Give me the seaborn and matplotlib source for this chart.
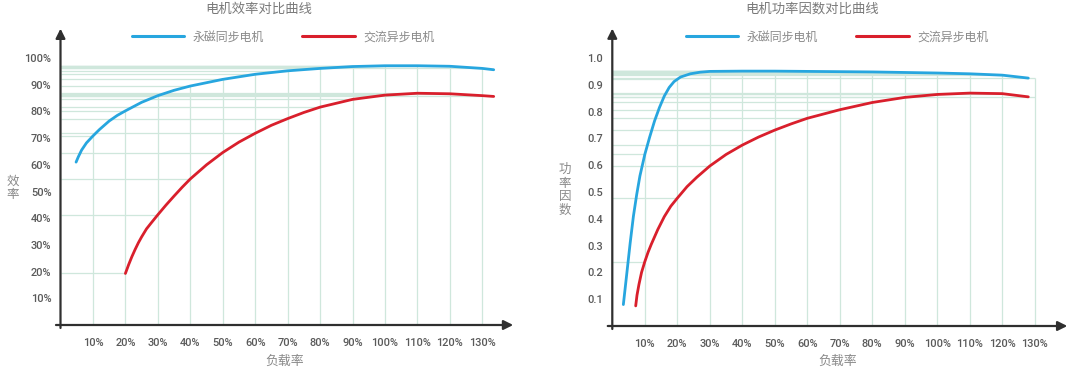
import numpy as np
import pandas as pd
import matplotlib
matplotlib.use("Agg")
import matplotlib.pyplot as plt
import seaborn as sns

sns.set_theme(style="white")
plt.rcParams['font.family'] = ['Noto Sans CJK SC', 'DejaVu Sans']

# ---------------- data ----------------
series_names = ["永磁同步电机", "交流异步电机"]
series_colors = ["#27a6df", "#d91f2c"]

# Efficiency chart (load %, efficiency %)
eff_pm_x = [4.8, 5.5, 6.5, 8, 10, 12, 15, 17.5, 20, 25, 30, 35, 40, 50, 60, 70, 80, 90, 100, 110, 120, 130, 133.5]
eff_pm_y = [61.0, 63.0, 65.5, 68.2, 70.8, 73.2, 76.4, 78.5, 80.2, 83.4, 85.9, 87.9, 89.5, 92.0, 93.9, 95.2, 96.1,
            96.8, 97.1, 97.1, 96.9, 96.1, 95.6]
eff_im_x = [20, 21, 22, 23, 24, 25, 26.5, 28, 30, 32.5, 35, 37.5, 40, 45, 50, 55, 60, 65, 70, 75, 80, 90, 100, 110,
            120, 130, 133.5]
eff_im_y = [19.3, 22.6, 25.6, 28.3, 30.8, 33.0, 36.0, 38.3, 41.3, 44.9, 48.3, 51.6, 54.7, 60.0, 64.6, 68.5, 71.8,
            74.8, 77.3, 79.6, 81.6, 84.5, 86.1, 86.8, 86.6, 85.9, 85.6]

# Power factor chart (load %, power factor)
pf_pm_x = [3.4, 4.5, 5.5, 6.5, 7.5, 8.5, 10, 11.5, 13, 14.5, 16, 17.5, 19, 21, 24, 27, 30, 40, 50, 60, 70, 80, 90,
           100, 110, 120, 128]
pf_pm_y = [0.08, 0.2, 0.31, 0.41, 0.49, 0.56, 0.64, 0.705, 0.765, 0.815, 0.858, 0.89, 0.912, 0.929, 0.941, 0.947,
           0.95, 0.951, 0.951, 0.95, 0.949, 0.948, 0.946, 0.944, 0.941, 0.936, 0.925]
pf_im_x = [7.2, 7.6, 8.2, 9, 10, 11, 12, 14, 16, 18, 20, 23, 26, 30, 35, 40, 45, 50, 55, 60, 70, 80, 90, 100, 110,
           120, 128]
pf_im_y = [0.075, 0.115, 0.155, 0.2, 0.24, 0.275, 0.305, 0.36, 0.408, 0.447, 0.477, 0.52, 0.555, 0.597, 0.64, 0.675,
           0.705, 0.731, 0.754, 0.775, 0.807, 0.834, 0.853, 0.864, 0.869, 0.867, 0.855]

x_ticks = [0, 10, 20, 30, 40, 50, 60, 70, 80, 90, 100, 110, 120, 130]
x_tick_labels = ["", "10%", "20%", "30%", "40%", "50%", "60%", "70%", "80%", "90%", "100%", "110%", "120%", "130%"]
eff_ticks = [10, 20, 30, 40, 50, 60, 70, 80, 90, 100]
eff_tick_labels = ["10%", "20%", "30%", "40%", "50%", "60%", "70%", "80%", "90%", "100%"]
pf_ticks = [0.1, 0.2, 0.3, 0.4, 0.5, 0.6, 0.7, 0.8, 0.9, 1.0]
pf_tick_labels = ["0.1", "0.2", "0.3", "0.4", "0.5", "0.6", "0.7", "0.8", "0.9", "1.0"]

titles = ["电机效率对比曲线", "电机功率因数对比曲线"]
ylabels = ["效率", "功率因数"]
xlabel = "负载率"

# ---------------- figure ----------------
W, H = 1080, 372
fig = plt.figure(figsize=(W / 100, H / 100), dpi=100)

GRID = "#cfe7dc"
AXC = "#2f2f2f"
TXT = "#8a8a8a"
TICKTXT = "#5a5a5a"


def px_axes(x0, y0, w, h):
    return fig.add_axes([x0 / W, 1 - y0 / H, w / W, h / H])


def draw_panel(ax, xs, ys, xlim, ylim, yticks, ytl, title, title_x, ylab, ylab_xy, xlab_x, legend_x):
    frames = []
    for name, x, y in zip(series_names, xs, ys):
        frames.append(pd.DataFrame({"x": x, "y": y, "s": name}))
    df = pd.concat(frames, ignore_index=True)

    # drop-line grid
    gx = [g for g in x_ticks if g > 0]
    for x, y in zip(xs, ys):
        xa, ya = np.asarray(x), np.asarray(y)
        for g in gx:
            if g >= xa.min():
                v = np.interp(g, xa, ya)
                ax.hlines(v, 0, g, color=GRID, lw=0.9, zorder=1)
    for g in gx:
        tops = []
        for x, y in zip(xs, ys):
            xa, ya = np.asarray(x), np.asarray(y)
            tops.append(np.interp(g, xa, ya))
        ax.vlines(g, 0, max(tops), color=GRID, lw=0.9, zorder=1)

    sns.lineplot(data=df, x="x", y="y", hue="s", palette=series_colors, hue_order=series_names,
                 sort=False, estimator=None, lw=2.0, ax=ax, zorder=3)
    for ln in ax.lines:
        ln.set_solid_joinstyle("round")
        ln.set_solid_capstyle("round")

    ax.set_xlim(*xlim)
    ax.set_ylim(*ylim)
    for s in ax.spines.values():
        s.set_visible(False)
    ax.set_xlabel("")
    ax.set_ylabel("")
    ax.set_xticks(x_ticks)
    ax.set_xticklabels(x_tick_labels)
    ax.set_yticks(yticks)
    ax.set_yticklabels(ytl)
    ax.tick_params(axis="both", direction="out", length=4, width=1.3, color=AXC,
                   labelsize=7.9, labelcolor=TICKTXT)
    ax.tick_params(axis="x", pad=5.5)
    ax.tick_params(axis="y", pad=2.5)
    for lab in ax.get_xticklabels() + ax.get_yticklabels():
        lab.set_family(["Roboto", "DejaVu Sans"])
        lab.set_fontweight("medium")

    # axes with arrows
    ax.annotate("", xy=(1.0, 0), xytext=(-0.01, 0), xycoords="axes fraction",
                arrowprops=dict(arrowstyle="-|>", color=AXC, lw=1.6, mutation_scale=14, shrinkA=0, shrinkB=0),
                annotation_clip=False)
    ax.annotate("", xy=(0, 1.0), xytext=(0, -0.01), xycoords="axes fraction",
                arrowprops=dict(arrowstyle="-|>", color=AXC, lw=1.6, mutation_scale=14, shrinkA=0, shrinkB=0),
                annotation_clip=False)

    handles, labels = ax.get_legend_handles_labels()
    for h in handles:
        h.set_linewidth(2.2)
    leg = ax.legend(handles, labels, loc="center", bbox_to_anchor=(legend_x / W, 1 - 37 / H),
                    bbox_transform=fig.transFigure, ncol=2, frameon=False, fontsize=8.6,
                    handlelength=4.4, handletextpad=0.7, columnspacing=3.2)
    for t in leg.get_texts():
        t.set_color(TXT)

    fig.text(title_x / W, 1 - 9 / H, title, ha="center", va="center", fontsize=9.6, color="#7a7a7a")
    fig.text(ylab_xy[0] / W, 1 - ylab_xy[1] / H, "\n".join(ylab), ha="center", va="center",
             fontsize=9, color=TXT, linespacing=1.05)
    fig.text(xlab_x / W, 1 - 361 / H, xlabel, ha="center", va="center", fontsize=9.3, color=TXT)


# left panel: x 0 at px 60.5, 3.245 px per %, y 0 at px 325, 2.67 px per %
ax1 = px_axes(60.5, 325, 139.5 * 3.245, 111 * 2.67)
draw_panel(ax1, [eff_pm_x, eff_im_x], [eff_pm_y, eff_im_y], (0, 139.5), (0, 111),
           eff_ticks, eff_tick_labels, titles[0], 259, ylabels[0], (13, 188), 285, 283)

# right panel: x 0 at px 612.3, 3.25 px per %, y 0 at px 326, 268 px per unit
ax2 = px_axes(612.3, 326, 140 * 3.25, 1.11 * 268)
draw_panel(ax2, [pf_pm_x, pf_im_x], [pf_pm_y, pf_im_y], (0, 140), (0, 1.11),
           pf_ticks, pf_tick_labels, titles[1], 812, ylabels[1], (565, 190), 838, 837)

fig.savefig("out.png", dpi=100, facecolor="white")
